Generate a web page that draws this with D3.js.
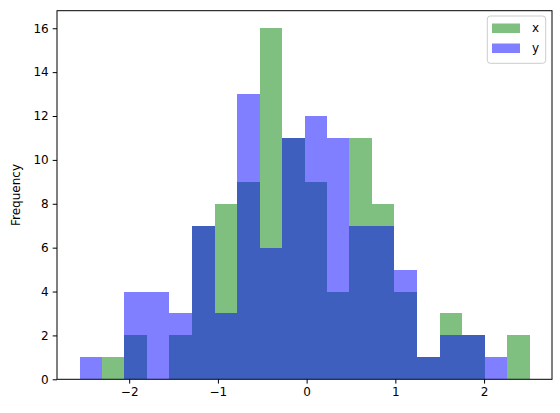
<!DOCTYPE html>
<html>
<head>
<meta charset="utf-8">
<script src="https://cdn.jsdelivr.net/npm/d3@7"></script>
<style>
html,body{margin:0;padding:0;background:#fff;}
svg{display:block;font-family:"DejaVu Sans",sans-serif;}
</style>
</head>
<body>
<svg id="chart" width="560" height="413"></svg>
<script>
// Data
const binEdges = [-2.560, -2.306, -2.053, -1.799, -1.546, -1.292, -1.038, -0.785, -0.531, -0.278, -0.024, 0.230, 0.483, 0.737, 0.990, 1.244, 1.498, 1.751, 2.005, 2.258, 2.512];
const xCounts = [0, 1, 2, 0, 2, 7, 8, 9, 16, 11, 9, 4, 11, 8, 4, 1, 3, 2, 0, 2];
const yCounts = [1, 0, 4, 4, 3, 7, 3, 13, 6, 11, 12, 11, 7, 7, 5, 1, 2, 2, 1, 0];
const seriesNames = ["x", "y"];
const seriesColors = ["#008000", "#0000ff"];
const xTicks = [-2, -1, 0, 1, 2];
const yTicks = [0, 2, 4, 6, 8, 10, 12, 14, 16];
const yLabel = "Frequency";

const svg = d3.select("#chart");
const L = 57, R = 552, T = 10.7, B = 379.3;
const lo = binEdges[0], hi = binEdges[binEdges.length - 1];
const pad = (hi - lo) * 0.05;
const x = d3.scaleLinear().domain([lo - pad, hi + pad]).range([L, R]);
const yMax = d3.max(xCounts.concat(yCounts)) * 1.05;
const y = d3.scaleLinear().domain([0, yMax]).range([B, T]);

const series = [xCounts, yCounts];
series.forEach((counts, si) => {
  svg.append("g").attr("fill", seriesColors[si]).attr("fill-opacity", 0.5)
    .attr("shape-rendering", "crispEdges")
    .selectAll("rect").data(counts.map((c, i) => ({c, x0: binEdges[i], x1: binEdges[i + 1]})).filter(d => d.c > 0))
    .join("rect")
    .attr("x", d => x(d.x0))
    .attr("width", d => x(d.x1) - x(d.x0))
    .attr("y", d => y(d.c))
    .attr("height", d => y(0) - y(d.c));
});

// Axes
const xAxis = d3.axisBottom(x).tickValues(xTicks).tickSize(4.3).tickPadding(4)
  .tickFormat(d => d < 0 ? "\u2212" + Math.abs(d) : String(d));
const gx = svg.append("g").attr("transform", `translate(0,${B})`).call(xAxis);
const yAxis = d3.axisLeft(y).tickValues(yTicks).tickSize(4.3).tickPadding(4);
const gy = svg.append("g").attr("transform", `translate(${L},0)`).call(yAxis);
[gx, gy].forEach(g => {
  g.select(".domain").remove();
  g.selectAll("text").attr("font-size", 12).attr("font-family", "DejaVu Sans").attr("fill", "#000");
  g.selectAll("line").attr("stroke", "#000").attr("stroke-width", 1);
});
gx.selectAll("text").attr("dy", "0.71em");

// Frame
svg.append("rect").attr("x", L).attr("y", T).attr("width", R - L).attr("height", B - T)
  .attr("fill", "none").attr("stroke", "#000").attr("stroke-width", 1);

// Y label
svg.append("text").attr("transform", `translate(20,${(T + B) / 2}) rotate(-90)`)
  .attr("text-anchor", "middle").attr("font-size", 12).text(yLabel);

// Legend
const lg = svg.append("g");
lg.append("rect").attr("x", 487.3).attr("y", 16).attr("width", 58.4).attr("height", 47.3)
  .attr("rx", 3).attr("fill", "#fff").attr("fill-opacity", 0.8).attr("stroke", "#cccccc").attr("stroke-width", 1);
seriesNames.forEach((n, i) => {
  const cy = 28 + i * 20;
  lg.append("rect").attr("x", 492).attr("y", cy - 4.5).attr("width", 28).attr("height", 9.5)
    .attr("fill", seriesColors[i]).attr("fill-opacity", 0.5);
  lg.append("text").attr("x", 532).attr("y", cy).attr("dy", "0.35em").attr("font-size", 12).text(n);
});
</script>
</body>
</html>
